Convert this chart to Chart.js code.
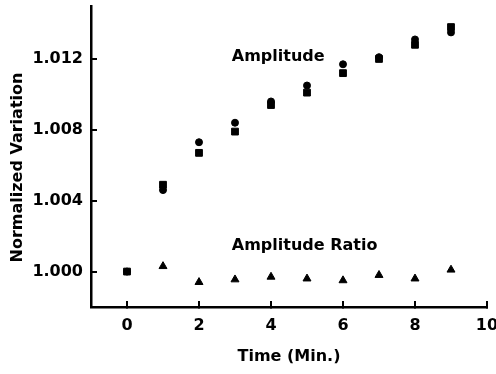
<!DOCTYPE html>
<html>
<head>
<meta charset="utf-8">
<script src="https://cdn.jsdelivr.net/npm/chart.js@4.4.1/dist/chart.umd.min.js"></script>
<style>
  html, body { margin: 0; padding: 0; background: #fff; }
  #wrap { width: 496px; height: 374px; }
</style>
</head>
<body>
<div id="wrap"><canvas id="variationChart"></canvas></div>
<script>
const times = [0, 1, 2, 3, 4, 5, 6, 7, 8, 9];
const amplitudeCircles = [1.0000, 1.0046, 1.0073, 1.0084, 1.0096, 1.0105, 1.0117, 1.0121, 1.0131, 1.0135];
const amplitudeSquares = [1.0000, 1.0049, 1.0067, 1.0079, 1.0094, 1.0101, 1.0112, 1.0120, 1.0128, 1.0138];
const amplitudeRatio = [null, 1.0003, 0.9994, 0.99955, 0.9997, 0.9996, 0.9995, 0.9998, 0.9996, 1.0001];
const xTicks = [0, 2, 4, 6, 8, 10];
const yTicks = [1.000, 1.004, 1.008, 1.012];

const font = { family: '"DejaVu Sans", sans-serif', size: 16, weight: 'bold' };

function points(ys) {
    return times.map((t, i) => ({ x: t, y: ys[i] }));
}

// text labels inside the plot, placed in data coordinates
const noteLabels = {
    id: 'noteLabels',
    afterDatasetsDraw(chart) {
        const { ctx, scales: { x, y } } = chart;
        ctx.save();
        ctx.font = 'bold 16px "DejaVu Sans", sans-serif';
        ctx.fillStyle = '#000';
        ctx.textAlign = 'left';
        ctx.textBaseline = 'middle';
        ctx.fillText('Amplitude', x.getPixelForValue(2.91), y.getPixelForValue(1.01212));
        ctx.fillText('Amplitude Ratio', x.getPixelForValue(2.91), y.getPixelForValue(1.00144));
        ctx.restore();
    }
};

new Chart(document.getElementById('variationChart'), {
    type: 'scatter',
    data: {
        datasets: [
            {
                label: 'Amplitude (circles)',
                data: points(amplitudeCircles),
                pointStyle: 'circle',
                pointRadius: 3.5,
                backgroundColor: '#000',
                borderColor: '#000',
                borderWidth: 1
            },
            {
                label: 'Amplitude (squares)',
                data: points(amplitudeSquares),
                pointStyle: 'rect',
                pointRadius: 4.8,
                backgroundColor: '#000',
                borderColor: '#000',
                borderWidth: 1
            },
            {
                label: 'Amplitude Ratio',
                data: points(amplitudeRatio),
                pointStyle: 'triangle',
                pointRadius: 4.6,
                backgroundColor: '#000',
                borderColor: '#000',
                borderWidth: 1
            }
        ]
    },
    options: {
        responsive: true,
        maintainAspectRatio: false,
        animation: false,
        layout: { padding: { top: 5, right: 9, left: 0, bottom: 0 } },
        plugins: {
            legend: { display: false },
            tooltip: { enabled: false }
        },
        scales: {
            x: {
                type: 'linear',
                min: -1,
                max: 10,
                afterBuildTicks: s => { s.ticks = xTicks.map(v => ({ value: v })); },
                afterFit: s => { s.height = 67; s.paddingLeft = 0; s.paddingRight = 0; },
                ticks: { font: font, color: '#000', padding: 15, maxRotation: 0 },
                grid: { drawOnChartArea: false, drawTicks: true, tickLength: -6, color: '#000', lineWidth: 2 },
                border: { color: '#000', width: 2.5 },
                title: {
                    display: true,
                    text: 'Time (Min.)',
                    font: font,
                    color: '#000',
                    padding: { top: 0, bottom: 8 }
                }
            },
            y: {
                min: 0.998,
                max: 1.015,
                afterBuildTicks: s => { s.ticks = yTicks.map(v => ({ value: v })); },
                afterFit: s => { s.width = 91; s.paddingTop = 0; s.paddingBottom = 0; },
                ticks: { font: font, color: '#000', padding: 14, callback: v => v.toFixed(3) },
                grid: { drawOnChartArea: false, drawTicks: true, tickLength: -6, color: '#000', lineWidth: 2 },
                border: { color: '#000', width: 2.5 },
                title: {
                    display: true,
                    text: 'Normalized Variation    ',
                    font: font,
                    color: '#000',
                    padding: { top: 8, bottom: 0 }
                }
            }
        }
    },
    plugins: [noteLabels]
});
</script>
</body>
</html>
